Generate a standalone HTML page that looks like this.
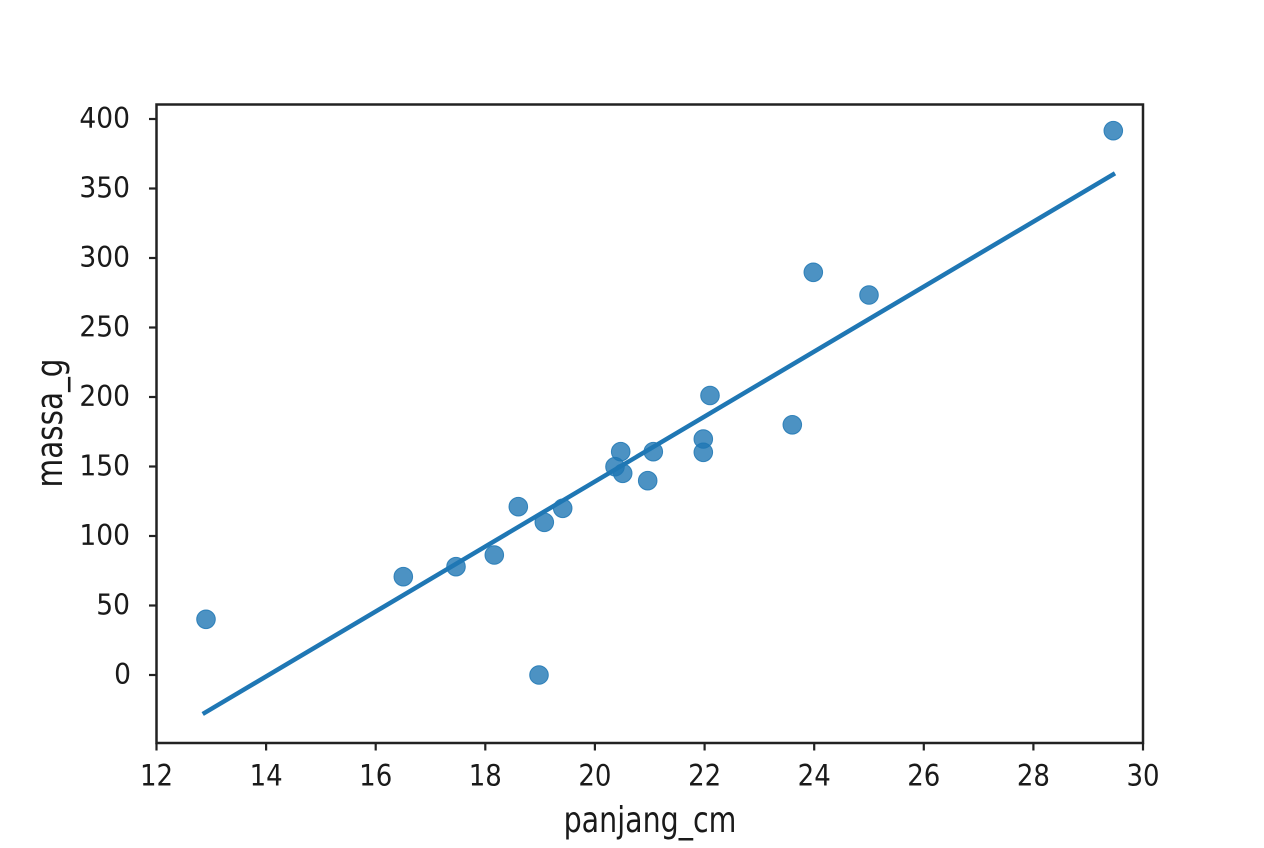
<!DOCTYPE html>
<html>
<head>
<meta charset="utf-8">
<style>
  html, body { margin: 0; padding: 0; background: #ffffff; }
  svg { display: block; }
  text { font-family: "DejaVu Sans", "Liberation Sans", sans-serif; fill: #1a1a1a; }
</style>
</head>
<body>
<svg width="1264" height="848" viewBox="0 0 1264 848" xmlns="http://www.w3.org/2000/svg">
  <rect x="0" y="0" width="1264" height="848" fill="#ffffff"/>

  <!-- scatter points -->
  <g fill="#1f77b4" fill-opacity="0.8" stroke="#1f77b4" stroke-opacity="0.85" stroke-width="1">
    <circle cx="206" cy="619.3" r="9.3"/>
    <circle cx="539" cy="675" r="9.3"/>
    <circle cx="403.3" cy="576.7" r="9.3"/>
    <circle cx="456" cy="566.7" r="9.3"/>
    <circle cx="494.3" cy="555" r="9.3"/>
    <circle cx="518.3" cy="506.7" r="9.3"/>
    <circle cx="544.3" cy="522.3" r="9.3"/>
    <circle cx="562.7" cy="508.3" r="9.3"/>
    <circle cx="620.7" cy="451.7" r="9.3"/>
    <circle cx="615" cy="466.7" r="9.3"/>
    <circle cx="622.7" cy="473.3" r="9.3"/>
    <circle cx="653.3" cy="451.7" r="9.3"/>
    <circle cx="647.7" cy="480.7" r="9.3"/>
    <circle cx="703.3" cy="439" r="9.3"/>
    <circle cx="703.3" cy="452.3" r="9.3"/>
    <circle cx="813.3" cy="272.3" r="9.3"/>
    <circle cx="869" cy="295" r="9.3"/>
    <circle cx="710" cy="395.5" r="9.3"/>
    <circle cx="792.3" cy="424.8" r="9.3"/>
    <circle cx="1113.3" cy="130.7" r="9.3"/>
  </g>

  <!-- regression line -->
  <line x1="202.7" y1="714" x2="1115" y2="173.3" stroke="#1f77b4" stroke-width="4.5" stroke-linecap="butt"/>

  <!-- axes frame -->
  <rect x="156.5" y="104.5" width="986.5" height="638.5" fill="none" stroke="#222" stroke-width="2.5"/>

  <!-- y ticks -->
  <g stroke="#222" stroke-width="2.2">
    <line x1="149" y1="119" x2="156.5" y2="119"/>
    <line x1="149" y1="188.5" x2="156.5" y2="188.5"/>
    <line x1="149" y1="258" x2="156.5" y2="258"/>
    <line x1="149" y1="327.5" x2="156.5" y2="327.5"/>
    <line x1="149" y1="397" x2="156.5" y2="397"/>
    <line x1="149" y1="466.5" x2="156.5" y2="466.5"/>
    <line x1="149" y1="536" x2="156.5" y2="536"/>
    <line x1="149" y1="605.5" x2="156.5" y2="605.5"/>
    <line x1="149" y1="675" x2="156.5" y2="675"/>
  </g>
  <g font-size="26.5" text-anchor="end">
    <text transform="translate(130,128) scale(1,1.07)">400</text>
    <text transform="translate(130,197.5) scale(1,1.07)">350</text>
    <text transform="translate(130,267) scale(1,1.07)">300</text>
    <text transform="translate(130,336.5) scale(1,1.07)">250</text>
    <text transform="translate(130,406) scale(1,1.07)">200</text>
    <text transform="translate(130,475.5) scale(1,1.07)">150</text>
    <text transform="translate(130,545) scale(1,1.07)">100</text>
    <text transform="translate(130,614.5) scale(1,1.07)">50</text>
    <text transform="translate(131,684) scale(1,1.07)">0</text>
  </g>

  <!-- x ticks -->
  <g stroke="#222" stroke-width="2.2">
    <line x1="156.5" y1="743" x2="156.5" y2="750.5"/>
    <line x1="266.1" y1="743" x2="266.1" y2="750.5"/>
    <line x1="375.7" y1="743" x2="375.7" y2="750.5"/>
    <line x1="485.3" y1="743" x2="485.3" y2="750.5"/>
    <line x1="594.9" y1="743" x2="594.9" y2="750.5"/>
    <line x1="704.6" y1="743" x2="704.6" y2="750.5"/>
    <line x1="814.2" y1="743" x2="814.2" y2="750.5"/>
    <line x1="923.8" y1="743" x2="923.8" y2="750.5"/>
    <line x1="1033.4" y1="743" x2="1033.4" y2="750.5"/>
    <line x1="1143" y1="743" x2="1143" y2="750.5"/>
  </g>
  <g font-size="26" text-anchor="middle">
    <text transform="translate(156.5,785.5) scale(1,1.13)">12</text>
    <text transform="translate(266.1,785.5) scale(1,1.13)">14</text>
    <text transform="translate(375.7,785.5) scale(1,1.13)">16</text>
    <text transform="translate(485.3,785.5) scale(1,1.13)">18</text>
    <text transform="translate(594.9,785.5) scale(1,1.13)">20</text>
    <text transform="translate(704.6,785.5) scale(1,1.13)">22</text>
    <text transform="translate(814.2,785.5) scale(1,1.13)">24</text>
    <text transform="translate(923.8,785.5) scale(1,1.13)">26</text>
    <text transform="translate(1033.4,785.5) scale(1,1.13)">28</text>
    <text transform="translate(1143,785.5) scale(1,1.13)">30</text>
  </g>

  <!-- axis labels -->
  <text font-size="28.5" text-anchor="middle" transform="translate(650,832) scale(1,1.25)">panjang_cm</text>
  <text font-size="29.5" text-anchor="middle" transform="translate(62,423) rotate(-90) scale(1,1.25)">massa_g</text>
</svg>
</body>
</html>
